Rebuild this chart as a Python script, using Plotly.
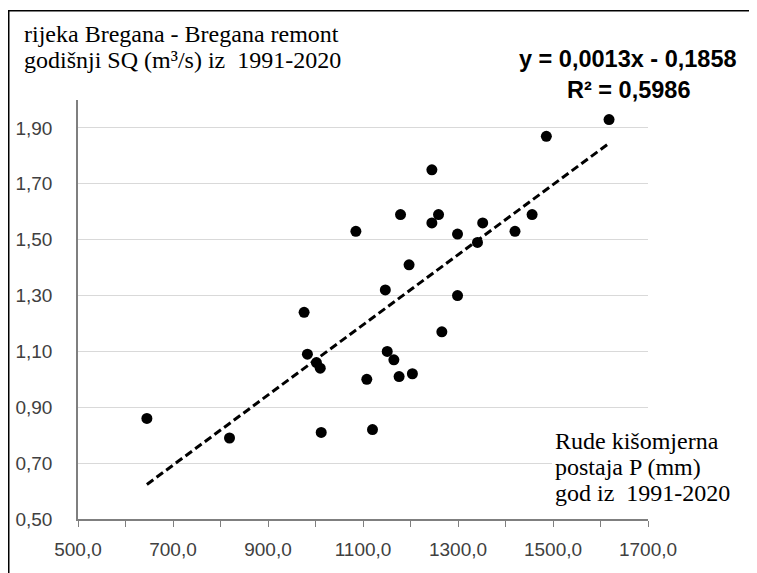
import numpy as np
import plotly.graph_objects as go

# Rude precipitation (mm) vs Bregana annual mean discharge SQ (m3/s), 1991-2020
precip = [645, 819, 976, 983, 1002, 1010, 1012, 1085, 1108, 1120, 1147, 1151, 1165,
          1176, 1179, 1197, 1204, 1245, 1245, 1259, 1266, 1299, 1299, 1341, 1352,
          1420, 1456, 1486, 1618]
discharge = [0.86, 0.79, 1.24, 1.09, 1.06, 1.04, 0.81, 1.53, 1.00, 0.82, 1.32, 1.10, 1.07,
             1.01, 1.59, 1.41, 1.02, 1.75, 1.56, 1.59, 1.17, 1.52, 1.30, 1.49, 1.56,
             1.53, 1.59, 1.87, 1.93]

x_ticks = [500, 700, 900, 1100, 1300, 1500, 1700]
x_tick_labels = ["500,0", "700,0", "900,0", "1100,0", "1300,0", "1500,0", "1700,0"]
y_ticks = [0.5, 0.7, 0.9, 1.1, 1.3, 1.5, 1.7, 1.9]
y_tick_labels = ["0,50", "0,70", "0,90", "1,10", "1,30", "1,50", "1,70", "1,90"]

title_lines = ["rijeka Bregana - Bregana remont", "godišnji SQ (m³/s) iz  1991-2020"]
eq_lines = ["y = 0,0013x - 0,1858", "R² = 0,5986"]
xlabel_lines = ["Rude kišomjerna", "postaja P (mm)", "god iz  1991-2020"]

slope, intercept = np.polyfit(precip, discharge, 1)
tx = [min(precip), max(precip)]
ty = [slope * v + intercept for v in tx]

OFF = 8  # browser default body margin
W, H = 757 - OFF, 573 - OFF
L, R, T, B = 78 - OFF, 109, 100 - OFF, 54
pw, ph = W - L - R, H - T - B

def px(xp):  # page pixel x -> paper
    return (xp - OFF - L) / pw

def py(yp):  # page pixel y -> paper
    return (H - B - (yp - OFF)) / ph

fig = go.Figure()
fig.add_trace(go.Scatter(x=tx, y=ty, mode="lines",
                         line=dict(color="black", width=3, dash="8px,4px"),
                         hoverinfo="skip", showlegend=False))
fig.add_trace(go.Scatter(x=precip, y=discharge, mode="markers",
                         marker=dict(color="black", size=11),
                         showlegend=False))

serif = "Liberation Serif"
sans = "Liberation Sans"

annotations = []
for i, t in enumerate(title_lines):
    annotations.append(dict(text=t, xref="paper", yref="paper", x=px(22), y=py([34, 60][i]),
                            xanchor="left", yanchor="middle", showarrow=False,
                            font=dict(family=serif, size=24, color="#000000")))
eq_pos = [(628, 59), (628, 90)]
for t, (cx, cy) in zip(eq_lines, eq_pos):
    annotations.append(dict(text="<b>" + t + "</b>", xref="paper", yref="paper", x=px(cx), y=py(cy),
                            xanchor="center", yanchor="middle", showarrow=False,
                            font=dict(family=sans, size=23.5, color="#000000")))
for i, t in enumerate(xlabel_lines):
    annotations.append(dict(text=t, xref="paper", yref="paper", x=px(553), y=py([441, 467, 493][i]),
                            xanchor="left", yanchor="middle", showarrow=False,
                            font=dict(family=serif, size=24, color="#000000")))

fig.update_layout(
    width=W, height=H,
    margin=dict(l=L, r=R, t=T, b=B, pad=0),
    paper_bgcolor="white", plot_bgcolor="white",
    annotations=annotations,
    shapes=[
        dict(type="rect", xref="paper", yref="paper",
             x0=px(8.75), x1=px(900), y0=py(700), y1=py(10.75),
             line=dict(color="#000000", width=1.5), layer="below"),
        dict(type="rect", xref="paper", yref="paper",
             x0=px(552), x1=px(652), y0=py(516), y1=py(428),
             fillcolor="white", line=dict(width=0), layer="above"),
    ],
    xaxis=dict(range=[500, 1700], tickvals=x_ticks, ticktext=x_tick_labels, automargin=False,
               showgrid=False, zeroline=False, showline=True, linecolor="#7f7f7f", linewidth=1.5,
               ticks="outside", ticklen=6, tickcolor="#7f7f7f", tickwidth=1.2,
               minor=dict(dtick=100, ticks="outside", ticklen=6, tickcolor="#7f7f7f", tickwidth=1.2, showgrid=False),
               tickfont=dict(family=sans, size=19, color="#404040"),
               ticklabelstandoff=6),
    yaxis=dict(range=[0.5, 2.0], tickvals=y_ticks, ticktext=y_tick_labels, automargin=False,
               showgrid=True, gridcolor="#d9d9d9", gridwidth=1, zeroline=False,
               showline=True, linecolor="#7f7f7f", linewidth=1.5, ticks="",
               tickfont=dict(family=sans, size=19, color="#404040"),
               ticklabelstandoff=20),
)

fig.write_html("out.html")
